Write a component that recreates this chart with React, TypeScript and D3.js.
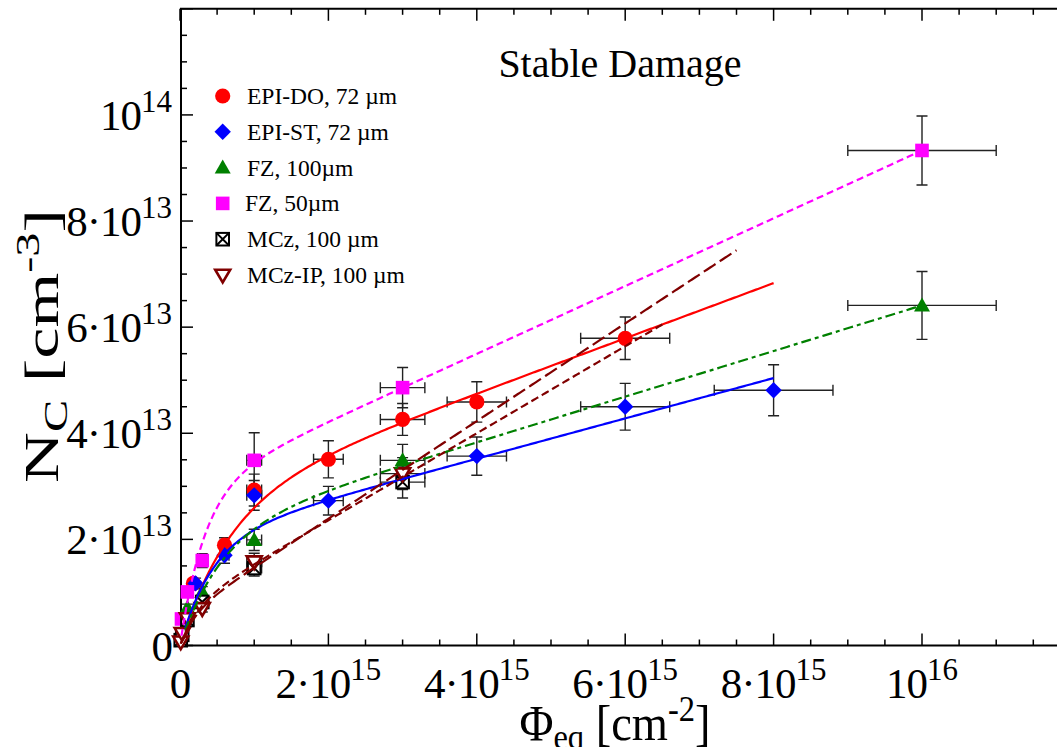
import React from 'react';
import * as d3 from 'd3';

const WIDTH = 1057;
const HEIGHT = 747;

// ---- measured data: fluence Φeq [cm^-2], concentration N_C [cm^-3] ----
const epiDoPhi = [1.8e14, 6e14, 1e15, 2e15, 3e15, 4e15, 6e15];
const epiDoN = [1.17e13, 1.89e13, 2.93e13, 3.51e13, 4.26e13, 4.59e13, 5.79e13];
const epiDoErr = [0.09e13, 0.14e13, 0.3e13, 0.35e13, 0.3e13, 0.38e13, 0.4e13];

const epiStPhi = [2.1e14, 6e14, 1e15, 2e15, 4e15, 6e15, 8e15];
const epiStN = [1.17e13, 1.7e13, 2.83e13, 2.73e13, 3.57e13, 4.5e13, 4.81e13];
const epiStErr = [0.1e13, 0.15e13, 0.28e13, 0.27e13, 0.36e13, 0.44e13, 0.48e13];

const fz100Phi = [1e14, 3e14, 1e15, 3e15, 1e16];
const fz100N = [0.71e13, 1.01e13, 1.99e13, 3.49e13, 6.41e13];
const fz100Err = [0.07e13, 0.1e13, 0.2e13, 0.3e13, 0.64e13];

const fz50Phi = [2e13, 1e14, 3e14, 1e15, 3e15, 1e16];
const fz50N = [0.5e13, 1.01e13, 1.6e13, 3.49e13, 4.86e13, 9.33e13];
const fz50Err = [0.05e13, 0.08e13, 0.13e13, 0.52e13, 0.38e13, 0.65e13];

const mczPhi = [1e13, 3e13, 1e14, 3e14, 1e15, 3e15];
const mczN = [0.1e13, 0.2e13, 0.48e13, 0.82e13, 1.46e13, 3.08e13];
const mczErr = [0.01e13, 0.02e13, 0.05e13, 0.08e13, 0.15e13, 0.3e13];

const mczIpPhi = [1e13, 3e13, 1e14, 3e14, 1e15, 3e15];
const mczIpN = [0.07e13, 0.23e13, 0.51e13, 0.7e13, 1.58e13, 3.24e13];
const mczIpErr = [0.01e13, 0.02e13, 0.05e13, 0.07e13, 0.16e13, 0.3e13];

// relative fluence uncertainty
const phiRelErr = 0.1;

// ---- stable damage fits: N = Nc0 (1 - exp(-c Φ)) + g Φ ----
const fitNc0 = [2.67e13, 2.0e13, 2.11e13, 2.94e13, 0.55e13, 0.72e13];
const fitC = [1.5e-15, 2.3e-15, 1.8e-15, 3.0e-15, 5e-15, 4e-15];
const fitG = [0.52e-2, 0.38e-2, 0.43e-2, 0.639e-2, 0.92e-2, 0.82e-2];
const fitStart = [1e14, 7e13, 7e13, 2e13, 1e13, 1e13];
const fitEnd = [8e15, 8e15, 1e16, 1e16, 7.5e15, 6.5e15];
const fitColor = ['#ff0000', '#0000ff', '#008000', '#ff00ff', '#800000', '#800000'];
const fitDash = ['', '', '10,4,4,4', '7,4', '14,5', '8,4'];

// ---- axis ticks ----
const xTickValues = [0, 2e15, 4e15, 6e15, 8e15, 1e16];
const xTickBase = ['0', '2·10', '4·10', '6·10', '8·10', '10'];
const xTickExp = ['', '15', '15', '15', '15', '16'];
const yTickValues = [0, 2e13, 4e13, 6e13, 8e13, 1e14];
const yTickBase = ['0', '2·10', '4·10', '6·10', '8·10', '10'];
const yTickExp = ['', '13', '13', '13', '13', '14'];

type SymbolKind = 'circle' | 'diamond' | 'triUp' | 'square' | 'boxX' | 'triDown';

interface Series {
  label: string;
  color: string;
  symbol: SymbolKind;
  phi: number[];
  n: number[];
  err: number[];
}

const series: Series[] = [
  { label: 'EPI-DO, 72 µm', color: '#ff0000', symbol: 'circle', phi: epiDoPhi, n: epiDoN, err: epiDoErr },
  { label: 'EPI-ST, 72 µm', color: '#0000ff', symbol: 'diamond', phi: epiStPhi, n: epiStN, err: epiStErr },
  { label: 'FZ, 100µm', color: '#008000', symbol: 'triUp', phi: fz100Phi, n: fz100N, err: fz100Err },
  { label: 'FZ, 50µm', color: '#ff00ff', symbol: 'square', phi: fz50Phi, n: fz50N, err: fz50Err },
  { label: 'MCz, 100 µm', color: '#000000', symbol: 'boxX', phi: mczPhi, n: mczN, err: mczErr },
  { label: 'MCz-IP, 100 µm', color: '#800000', symbol: 'triDown', phi: mczIpPhi, n: mczIpN, err: mczIpErr },
];

const FONT = '"Liberation Serif", "Times New Roman", serif';

const x = d3.scaleLinear().domain([0, 1.2e16]).range([180, 1070.4]);
const y = d3.scaleLinear().domain([0, 1.2e14]).range([645.5, 8.8]);

function Marker({ kind, cx, cy, color }: { kind: SymbolKind; cx: number; cy: number; color: string }) {
  switch (kind) {
    case 'circle':
      return <circle cx={cx} cy={cy} r={7.6} fill={color} />;
    case 'diamond': {
      const h = 8.2;
      return <path d={`M${cx},${cy - h}L${cx + h},${cy}L${cx},${cy + h}L${cx - h},${cy}Z`} fill={color} />;
    }
    case 'triUp': {
      const s = 8;
      return <path d={`M${cx},${cy - s}L${cx + s},${cy + s * 0.75}L${cx - s},${cy + s * 0.75}Z`} fill={color} />;
    }
    case 'square': {
      const s = 6.8;
      return <rect x={cx - s} y={cy - s} width={2 * s} height={2 * s} fill={color} />;
    }
    case 'boxX': {
      const s = 6.3;
      return (
        <g stroke={color} strokeWidth={2} fill="#fff">
          <rect x={cx - s} y={cy - s} width={2 * s} height={2 * s} />
          <path d={`M${cx - s},${cy - s}L${cx + s},${cy + s}M${cx + s},${cy - s}L${cx - s},${cy + s}`} />
        </g>
      );
    }
    case 'triDown': {
      const s = 7.5;
      return (
        <path
          d={`M${cx - s},${cy - s * 0.7}L${cx + s},${cy - s * 0.7}L${cx},${cy + s}Z`}
          fill="#fff"
          stroke={color}
          strokeWidth={2.6}
          strokeLinejoin="miter"
        />
      );
    }
  }
  return null;
}

function ErrorBars({ s }: { s: Series }) {
  const cap = 5.5;
  return (
    <g stroke="#222" strokeWidth={1.4} fill="none">
      {s.phi.map((p, i) => {
        const cx = x(p);
        const cy = y(s.n[i]);
        const x0 = x(p * (1 - phiRelErr));
        const x1 = x(p * (1 + phiRelErr));
        const y0 = y(s.n[i] - s.err[i]);
        const y1 = y(s.n[i] + s.err[i]);
        return (
          <path
            key={i}
            d={
              `M${x0},${cy}H${x1}M${x0},${cy - cap}V${cy + cap}M${x1},${cy - cap}V${cy + cap}` +
              `M${cx},${y0}V${y1}M${cx - cap},${y0}H${cx + cap}M${cx - cap},${y1}H${cx + cap}`
            }
          />
        );
      })}
    </g>
  );
}

function fitPath(i: number): string {
  const f = (p: number) => fitNc0[i] * (1 - Math.exp(-fitC[i] * p)) + fitG[i] * p;
  const n = 300;
  const pts: [number, number][] = [];
  for (let k = 0; k <= n; k++) {
    const p = fitStart[i] + ((fitEnd[i] - fitStart[i]) * k) / n;
    pts.push([p, f(p)]);
  }
  const line = d3
    .line<[number, number]>()
    .x((d) => x(d[0]))
    .y((d) => y(d[1]));
  return line(pts) || '';
}

// tick label of the form  m·10^e  (or 10^e, or a plain number)
function PowerLabel({ base, exp, size }: { base: string; exp: string; size: number }) {
  return (
    <>
      <tspan letterSpacing={-1}>{base}</tspan>
      {exp && (
        <tspan dy={-size * 0.42} fontSize={size * 0.72}>
          {exp}
        </tspan>
      )}
    </>
  );
}

export default function App() {
  const xTicks = d3.range(0, 1.2e16 + 1, 5e14);
  const yTicks = d3.range(0, 1.2e14 + 1, 5e12);
  const tickFont = 43;
  const axisLeft = 181;
  const axisBottom = y(0);
  const axisTop = y(1.2e14);

  return (
    <svg
      width={WIDTH}
      height={HEIGHT}
      style={{ position: 'absolute', left: 0, top: 0, background: '#fff' }}
      fontFamily={FONT}
    >
      <rect width={WIDTH} height={HEIGHT} fill="#fff" />

      {/* frame */}
      <g stroke="#000" strokeWidth={2} fill="none">
        <path d={`M${axisLeft},${axisTop}V${axisBottom}`} />
        <path d={`M${axisLeft - 1},${axisBottom}H${WIDTH}`} />
        <path d={`M${axisLeft - 1},${axisTop}H${WIDTH}`} />
      </g>

      {/* ticks */}
      <g stroke="#000" strokeWidth={1.5}>
        {xTicks.map((t, i) => {
          const major = Math.round(t / 5e14) % 4 === 0;
          const len = major ? 12 : 6;
          return (
            <g key={`xt${i}`}>
              <line x1={x(t)} x2={x(t)} y1={axisBottom} y2={axisBottom - len} />
              <line x1={x(t)} x2={x(t)} y1={axisTop} y2={axisTop + len} />
            </g>
          );
        })}
        {yTicks.map((t, i) => {
          const major = Math.round(t / 5e12) % 4 === 0;
          const len = major ? 12 : 6;
          return <line key={`yt${i}`} x1={axisLeft} x2={axisLeft + len} y1={y(t)} y2={y(t)} />;
        })}
      </g>

      {/* tick labels */}
      <g fontSize={tickFont} fill="#000">
        {xTickValues.map((t, i) => (
          <text key={`xl${i}`} x={x(t)} y={698} textAnchor="middle">
            <PowerLabel base={xTickBase[i]} exp={xTickExp[i]} size={tickFont} />
          </text>
        ))}
        {yTickValues.map((t, i) => (
          <text key={`yl${i}`} x={172} y={y(t) + 15} textAnchor="end">
            <PowerLabel base={yTickBase[i]} exp={yTickExp[i]} size={tickFont} />
          </text>
        ))}
      </g>

      {/* axis titles */}
      <text transform="translate(615,740) scale(0.93,1)" textAnchor="middle" fontSize={50}>
        <tspan>Φ</tspan>
        <tspan dy={9} fontSize={35}>eq</tspan>
        <tspan dy={-9}> [cm</tspan>
        <tspan dy={-19} fontSize={35}>-2</tspan>
        <tspan dy={19}>]</tspan>
      </text>
      <text transform="translate(58,346) rotate(-90) scale(1.1,0.75)" textAnchor="middle" fontSize={64}>
        <tspan>N</tspan>
        <tspan dy={12} fontSize={44}>C</tspan>
        <tspan dy={-12}> [cm</tspan>
        <tspan dy={-25} fontSize={44}>-3</tspan>
        <tspan dy={25}>]</tspan>
      </text>

      {/* title */}
      <text x={620} y={77} textAnchor="middle" fontSize={40}>
        Stable Damage
      </text>

      {/* error bars */}
      {series.map((s, i) => (
        <ErrorBars key={`eb${i}`} s={s} />
      ))}

      {/* data markers */}
      {series.map((s, si) => (
        <g key={`m${si}`}>
          {s.phi.map((p, i) => (
            <Marker key={i} kind={s.symbol} cx={x(p)} cy={y(s.n[i])} color={s.color} />
          ))}
        </g>
      ))}

      {/* fit curves */}
      {fitNc0.map((_, i) => (
        <path
          key={`fit${i}`}
          d={fitPath(i)}
          fill="none"
          stroke={fitColor[i]}
          strokeWidth={2.2}
          strokeDasharray={fitDash[i] || undefined}
        />
      ))}

      {/* legend */}
      <g fontSize={23.5}>
        {series.map((s, i) => {
          const ly = 96 + i * 35.8;
          return (
            <g key={`lg${i}`}>
              <Marker kind={s.symbol} cx={222.7} cy={ly} color={s.color} />
              <text x={i === 3 ? 245 : 247} y={ly + 8}>
                {s.label}
              </text>
            </g>
          );
        })}
      </g>
    </svg>
  );
}
